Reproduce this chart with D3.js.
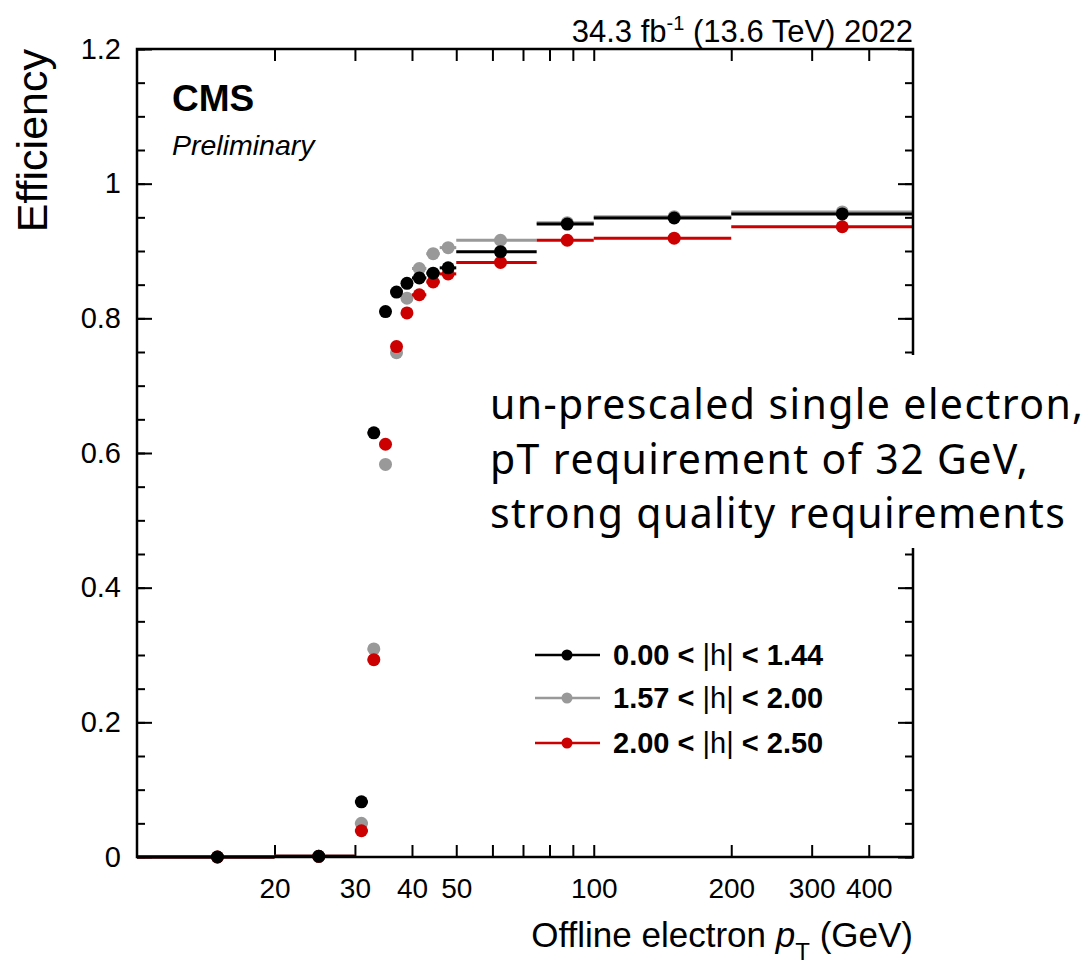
<!DOCTYPE html>
<html>
<head>
<meta charset="utf-8">
<script src="https://cdn.jsdelivr.net/npm/d3@7"></script>
<style>
  body { margin: 0; background: #fff; }
  svg { display: block; }
  text { font-family: "Liberation Sans", Arial, sans-serif; fill: #000; }
</style>
</head>
<body>
<div id="container"></div>
<script>
// bin edges in offline pT (GeV)
const binEdges = [10, 20, 30, 32, 34, 36, 38, 40, 43, 46, 50, 75, 100, 200, 500];

// efficiency per bin
const effBarrel = [0, 0.001, 0.082, 0.630, 0.810, 0.839, 0.852, 0.860, 0.867, 0.875, 0.899, 0.940, 0.949, 0.955];
const effEndcap1 = [0, 0.001, 0.050, 0.309, 0.583, 0.749, 0.830, 0.874, 0.896, 0.905, 0.916, 0.942, 0.951, 0.958];
const effEndcap2 = [0, 0.001, 0.039, 0.293, 0.613, 0.758, 0.808, 0.835, 0.854, 0.866, 0.883, 0.916, 0.919, 0.936];

const seriesNames = ["0.00 < |h| < 1.44", "1.57 < |h| < 2.00", "2.00 < |h| < 2.50"];
const seriesColors = ["#000000", "#999999", "#cc0000"];

const xTicks = [20, 30, 40, 50, 60, 70, 80, 90, 100, 200, 300, 400];
const xLabels = [20, 30, 40, 50, 100, 200, 300, 400];
const yMajor = [0, 0.2, 0.4, 0.6, 0.8, 1, 1.2];
const yMinor = d3.range(0, 1.2001, 0.05);

const w = 1091;
const h = 966;
const pLeft = 137, pRight = 913, pTop = 49, pBottom = 857;

const svg = d3.select("#container")
  .append("svg")
  .attr("width", w)
  .attr("height", h);

const xScale = d3.scaleLog().domain([10, 500]).range([pLeft, pRight]);
const yScale = d3.scaleLinear().domain([0, 1.2]).range([pBottom, pTop]);

// ticks (all pointing inward)
function styleAxis(g) {
  g.select(".domain").remove();
  g.selectAll(".tick line").attr("stroke", "#000").attr("stroke-width", 2);
}

svg.append("g")
  .attr("transform", "translate(0," + pBottom + ")")
  .call(d3.axisBottom(xScale).tickValues(xTicks).tickSizeInner(-12).tickSizeOuter(0).tickPadding(21)
    .tickFormat(d => xLabels.includes(d) ? d : ""))
  .call(styleAxis)
  .selectAll("text").style("font-size", "28px").attr("font-family", "Liberation Sans, Arial, sans-serif");

svg.append("g")
  .attr("transform", "translate(0," + pTop + ")")
  .call(d3.axisTop(xScale).tickValues(xTicks).tickSizeInner(-12).tickSizeOuter(0).tickFormat(""))
  .call(styleAxis);

svg.append("g")
  .attr("transform", "translate(" + pLeft + ",0)")
  .call(d3.axisLeft(yScale).tickValues(yMinor).tickSizeInner(-8).tickSizeOuter(0).tickFormat(""))
  .call(styleAxis);

svg.append("g")
  .attr("transform", "translate(" + pLeft + ",0)")
  .call(d3.axisLeft(yScale).tickValues(yMajor).tickSizeInner(-15).tickSizeOuter(0).tickPadding(16)
    .tickFormat(d => d3.format("~g")(d)))
  .call(styleAxis)
  .selectAll("text").style("font-size", "29px").attr("font-family", "Liberation Sans, Arial, sans-serif");

svg.append("g")
  .attr("transform", "translate(" + pRight + ",0)")
  .call(d3.axisRight(yScale).tickValues(yMinor).tickSizeInner(-8).tickSizeOuter(0).tickFormat(""))
  .call(styleAxis);

svg.append("g")
  .attr("transform", "translate(" + pRight + ",0)")
  .call(d3.axisRight(yScale).tickValues(yMajor).tickSizeInner(-15).tickSizeOuter(0).tickFormat(""))
  .call(styleAxis);

// data: horizontal bin bars + markers (gray, red, then black on top)
const allSeries = [effBarrel, effEndcap1, effEndcap2];
const drawOrder = [1, 2, 0];
const bins = d3.range(binEdges.length - 1).map(i => ({ lo: binEdges[i], hi: binEdges[i + 1] }));

drawOrder.forEach(s => {
  const g = svg.append("g");
  const pts = bins.map((b, i) => ({ lo: b.lo, hi: b.hi, mid: (b.lo + b.hi) / 2, v: allSeries[s][i] }));
  g.selectAll("line")
    .data(pts)
    .enter()
    .append("line")
    .attr("x1", d => xScale(d.lo))
    .attr("x2", d => xScale(d.hi))
    .attr("y1", d => yScale(d.v))
    .attr("y2", d => yScale(d.v))
    .attr("stroke", seriesColors[s])
    .attr("stroke-width", 3);
  g.selectAll("circle")
    .data(pts)
    .enter()
    .append("circle")
    .attr("cx", d => xScale(d.mid))
    .attr("cy", d => yScale(d.v))
    .attr("r", 6.5)
    .attr("fill", seriesColors[s]);
});

// frame
svg.append("rect")
  .attr("x", pLeft)
  .attr("y", pTop)
  .attr("width", pRight - pLeft)
  .attr("height", pBottom - pTop)
  .attr("fill", "none")
  .attr("stroke", "#000")
  .attr("stroke-width", 2.5);

// titles
svg.append("text")
  .attr("transform", "translate(47," + pTop + ") rotate(-90)")
  .attr("text-anchor", "end")
  .style("font-size", "43px")
  .text("Efficiency");

const xt = svg.append("text")
  .attr("x", pRight)
  .attr("y", 947)
  .attr("text-anchor", "end")
  .style("font-size", "35px");
xt.append("tspan").text("Offline electron ");
xt.append("tspan").style("font-style", "italic").text("p");
xt.append("tspan").attr("dy", 13).style("font-size", "24px").text("T");
xt.append("tspan").attr("dy", -13).text(" (GeV)");

const lumi = svg.append("text")
  .attr("x", pRight)
  .attr("y", 42)
  .attr("text-anchor", "end")
  .style("font-size", "31px");
lumi.append("tspan").text("34.3 fb");
lumi.append("tspan").attr("dy", -12).style("font-size", "20px").text("-1");
lumi.append("tspan").attr("dy", 12).text(" (13.6 TeV) 2022");

svg.append("text")
  .attr("x", 172)
  .attr("y", 111)
  .style("font-size", "37px")
  .style("font-weight", "bold")
  .text("CMS");

svg.append("text")
  .attr("x", 172)
  .attr("y", 155)
  .style("font-size", "28.5px")
  .style("font-style", "italic")
  .text("Preliminary");

// legend
const legendY = [655, 698, 743];
const legend = svg.append("g");
seriesNames.forEach((name, i) => {
  legend.append("line")
    .attr("x1", 535).attr("x2", 600)
    .attr("y1", legendY[i]).attr("y2", legendY[i])
    .attr("stroke", seriesColors[i])
    .attr("stroke-width", 2.5);
  legend.append("circle")
    .attr("cx", 567).attr("cy", legendY[i])
    .attr("r", 5.5)
    .attr("fill", seriesColors[i]);
  const parts = name.split("|h|");
  const t = legend.append("text")
    .attr("x", 613)
    .attr("y", legendY[i] + 10)
    .style("font-size", "29px")
    .style("font-weight", "bold");
  t.append("tspan").text(parts[0]);
  t.append("tspan").style("font-weight", "normal").text("|h|");
  t.append("tspan").text(parts[1]);
});

// annotation box (covers the right frame)
svg.append("rect")
  .attr("x", 480)
  .attr("y", 355)
  .attr("width", w - 480)
  .attr("height", 193)
  .attr("fill", "#fff");

const noteLines = ["un-prescaled single electron,", "pT requirement of 32 GeV,", "strong quality requirements"];
const noteY = [419, 474, 528];
noteLines.forEach((line, i) => {
  svg.append("text")
    .attr("x", 490)
    .attr("y", noteY[i])
    .style("font-family", "'Noto Sans', sans-serif")
    .style("font-size", "41px")
    .style("letter-spacing", "1.4px")
    .text(line);
});
</script>
</body>
</html>
